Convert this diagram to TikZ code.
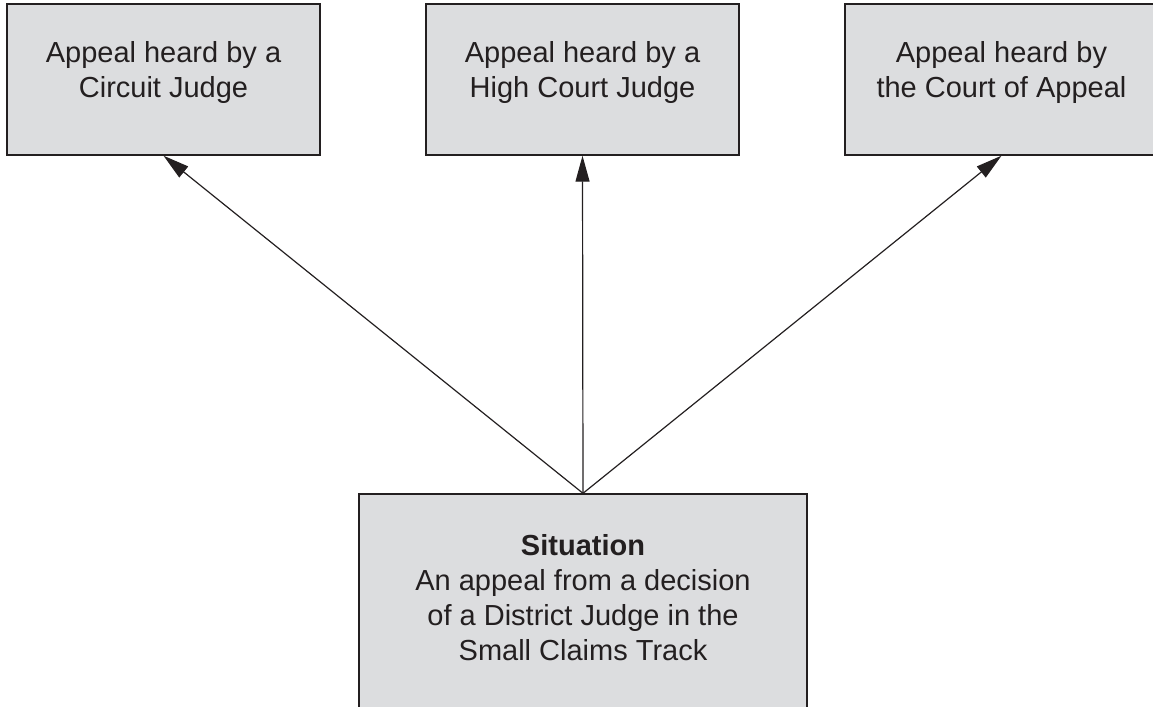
\documentclass[tikz,border=0pt]{standalone}
\usepackage{fontspec}
\setmainfont{Liberation Sans}
\usetikzlibrary{arrows.meta}
\definecolor{boxgrey}{RGB}{220,221,223}
\definecolor{inkblack}{RGB}{35,31,32}

\begin{document}
\begin{tikzpicture}[x=0.5pt, y=-0.5pt, >={Triangle[length=13pt, width=7pt]},
    court/.style={draw=inkblack, fill=boxgrey, line width=0.7pt,
        minimum width=156.5pt, minimum height=75.5pt, inner sep=0pt},
    words/.style={align=center, inner sep=0pt, text=inkblack,
        font=\fontsize{14.5}{17.5}\selectfont}]

    \clip (0,0) rectangle (1153,707);

    % draw the three courts
    \foreach \x/\t/\a/\b in {163.5/cj/Appeal heard by a/Circuit Judge,
                             582.5/hc/Appeal heard by a/High Court Judge,
                             1001.5/ca/Appeal heard by/the Court of Appeal} {
        \node [court] (v\t) at (\x, 79.5) {};
        \node [words] (w\t) at (\x, 73) {\a\\\b};
    }

    % draw the situation
    \node [court, minimum width=224pt, minimum height=113pt] (vs) at (583, 607) {};
    \node [words] (ws) at (583, 598)
        {\textbf{Situation}\\An appeal from a decision\\of a District Judge in the\\Small Claims Track};

    % draw arrows
    \foreach \t in {cj, hc, ca}
        \draw [->, line width=0.6pt, inkblack] (vs.north) -- (v\t.south);

\end{tikzpicture}
\end{document}
